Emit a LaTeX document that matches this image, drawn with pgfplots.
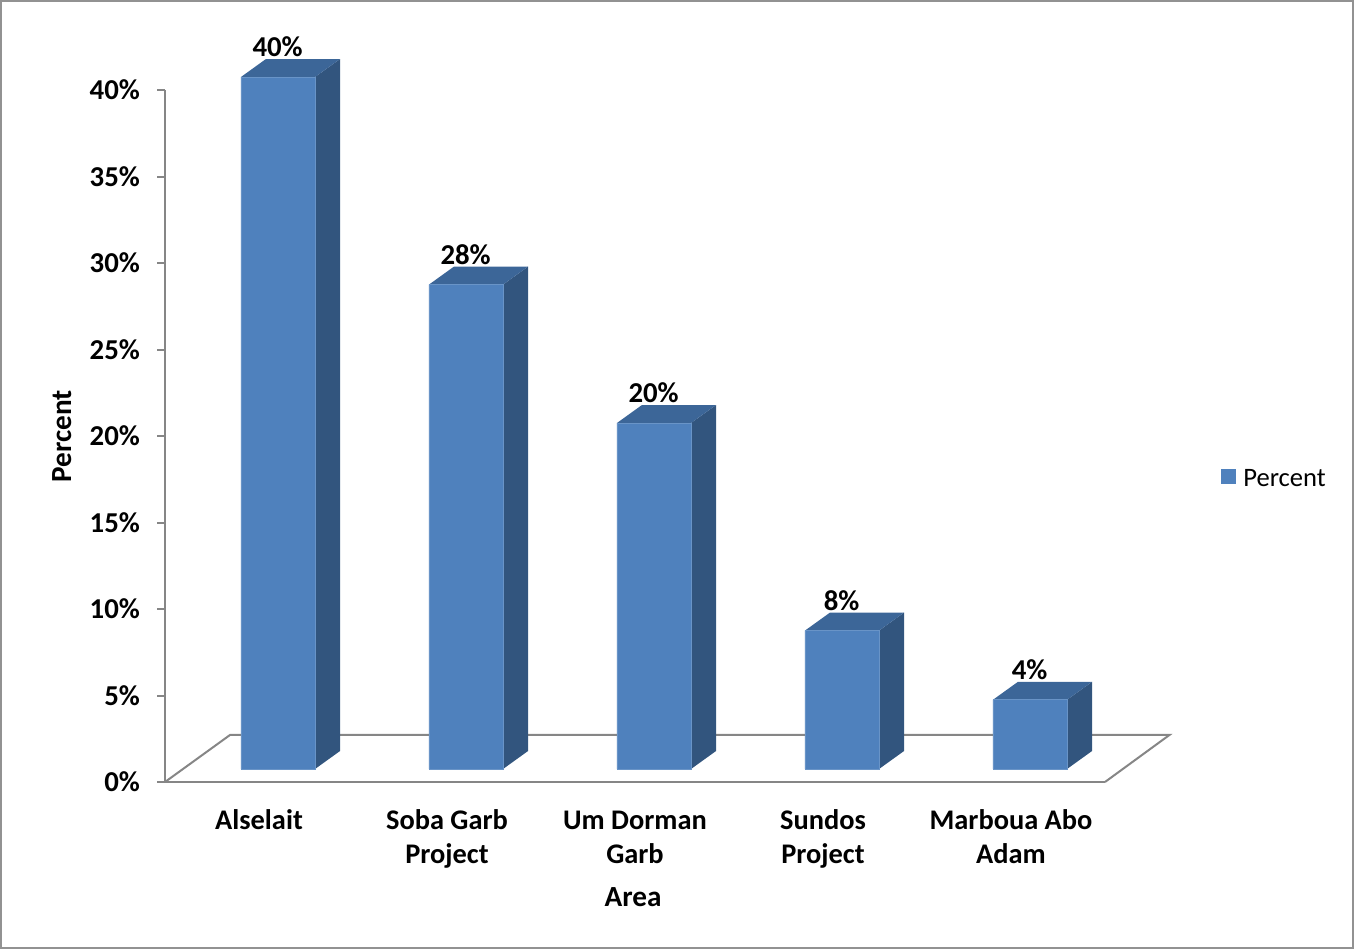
\documentclass[border=0pt]{standalone}
\usepackage{pgfplots}
\pgfplotsset{compat=1.18}
\usepackage{fontspec}
\setmainfont{Carlito}
\definecolor{front}{HTML}{4F81BD}
\definecolor{side}{HTML}{32557E}
\definecolor{topc}{HTML}{3C6698}
\definecolor{axgray}{HTML}{868686}
\begin{document}
\begin{tikzpicture}[x=1pt,y=1pt]
\path[use as bounding box] (0,0) rectangle (677,474.5);
\draw[axgray!90, line width=0.8pt] (0.6,0.6) rectangle (676.4,473.9);
\begin{axis}[
  at={(82.5pt,83.5pt)}, anchor=south west,
  scale only axis, width=470pt, height=346pt,
  xmin=-0.5, xmax=4.5, ymin=0, ymax=40,
  axis lines=left, axis line style={-, axgray, line width=1pt},
  clip=false,
  xtick={0,1,2,3,4},
  xticklabels={\strut Alselait, \strut Soba Garb\\\strut Project, \strut Um Dorman\\\strut Garb, \strut Sundos\\\strut Project, \strut Marboua Abo\\\strut Adam},
  x tick style={draw=none},
  xticklabel style={align=center, font=\fontsize{14.2}{17}\selectfont\bfseries, yshift=-4.5pt},
  ytick={0,5,...,40},
  yticklabel={\pgfmathprintnumber{\tick}\%},
  /pgf/number format/assume math mode=true,
  yticklabel style={font=\fontsize{14.4}{17}\selectfont\bfseries, xshift=-5pt},
  y tick style={axgray, line width=1pt},
  tick align=outside, major tick length=4pt,
  every axis y label/.style={at={(axis description cs:-0.1096,0.5)}, rotate=90, anchor=center},
  every axis x label/.style={at={(axis description cs:0.498,-0.166)}, anchor=center},
  ylabel={\fontsize{14.6}{17}\selectfont\bfseries Percent},
  xlabel={\fontsize{14.6}{17}\selectfont\bfseries Area},
  legend style={at={(1.1225,0.437)}, anchor=west, draw=none, fill=none,
    font=\fontsize{13.3}{16}\selectfont, inner sep=0pt,
    /tikz/every even column/.append style={column sep=0pt}},
  legend image code/.code={\fill[front] (0pt,-8.5pt) rectangle (7pt,-1.5pt);},
  legend cell align=left,
]
% floor
\draw[axgray, line width=1pt] (axis cs:-0.5,0) -- (axis cs:-0.154,2.72) -- (axis cs:4.843,2.72) -- (axis cs:4.5,0);
% side faces
\addplot[fill=side, draw=none, yshift=6.5pt, forget plot] coordinates {(0.298,0) (0.298,40) (0.431,41.04) (0.431,1.04)} -- cycle;
\addplot[fill=side, draw=none, yshift=6.5pt, forget plot] coordinates {(1.298,0) (1.298,28) (1.431,29.04) (1.431,1.04)} -- cycle;
\addplot[fill=side, draw=none, yshift=6.5pt, forget plot] coordinates {(2.298,0) (2.298,20) (2.431,21.04) (2.431,1.04)} -- cycle;
\addplot[fill=side, draw=none, yshift=6.5pt, forget plot] coordinates {(3.298,0) (3.298,8) (3.431,9.04) (3.431,1.04)} -- cycle;
\addplot[fill=side, draw=none, yshift=6.5pt, forget plot] coordinates {(4.298,0) (4.298,4) (4.431,5.04) (4.431,1.04)} -- cycle;
% top faces
\addplot[fill=topc, draw=none, yshift=6.5pt, forget plot] coordinates {(-0.096,40) (0.298,40) (0.431,41.04) (0.037,41.04)} -- cycle;
\addplot[fill=topc, draw=none, yshift=6.5pt, forget plot] coordinates {(0.904,28) (1.298,28) (1.431,29.04) (1.037,29.04)} -- cycle;
\addplot[fill=topc, draw=none, yshift=6.5pt, forget plot] coordinates {(1.904,20) (2.298,20) (2.431,21.04) (2.037,21.04)} -- cycle;
\addplot[fill=topc, draw=none, yshift=6.5pt, forget plot] coordinates {(2.904,8) (3.298,8) (3.431,9.04) (3.037,9.04)} -- cycle;
\addplot[fill=topc, draw=none, yshift=6.5pt, forget plot] coordinates {(3.904,4) (4.298,4) (4.431,5.04) (4.037,5.04)} -- cycle;
% front faces
\addplot[ybar, bar width=0.394, bar shift=0.101, fill=front, draw=front!85!white, line width=0.4pt, yshift=6.5pt,
  nodes near coords={\pgfmathprintnumber{\pgfplotspointmeta}\%},
  every node near coord/.append style={font=\fontsize{14.4}{17}\selectfont\bfseries, anchor=center, yshift=15pt, xshift=9.3pt, text=black}]
  coordinates {(0,40) (1,28) (2,20) (3,8) (4,4)};
\addlegendentry{\hspace{2pt}Percent}
\end{axis}
\end{tikzpicture}
\end{document}
